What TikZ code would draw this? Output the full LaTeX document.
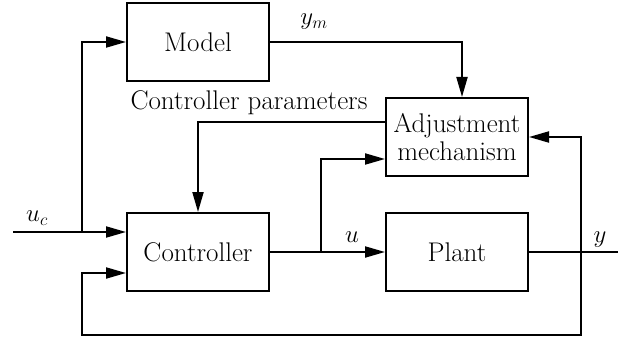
\documentclass[tikz,border=0pt]{standalone}
\usetikzlibrary{arrows.meta}
\begin{document}
\begin{tikzpicture}[x=1pt,y=-1pt,
  every node/.style={font=\fontsize{27}{28.5}\selectfont},
  blk/.style={draw,line width=2pt,minimum width=142pt,minimum height=78pt,inner sep=0pt,align=center},
  sig/.style={line width=2pt},
  arr/.style={sig,-{Triangle[length=20pt,width=11pt]}},
  lbl/.style={inner sep=0pt}]
\useasboundingbox (0,0) rectangle (631,339);
\node[blk] (model) at (198,42) {Model};
\node[blk] (adj) at (457,137) {Adjustment\\mechanism};
\node[blk] (ctrl) at (198,252) {Controller};
\node[blk] (plant) at (457,252) {Plant};
% labels
\node[lbl] (lym) at (314,22) {$y_m$};
\node[lbl] (luc) at (37,218) {$u_c$};
\node[lbl] (lu) at (352,237) {$u$};
\node[lbl] (ly) at (600,240) {$y$};
\node[lbl,anchor=base] (lcp) at (249,110) {Controller parameters};
% coordinates
\coordinate (uin) at (13,232);
\coordinate (j1) at (82,232);
\coordinate (ymc) at (462,42);
\coordinate (j2) at (321,252);
\coordinate (j3) at (581,252);
\coordinate (yout) at (618,252);
\coordinate (fbl) at (581,335);
\coordinate (fbr) at (82,335);
% connectors
\draw[arr] (model.east) -- (ymc) -- (ymc |- adj.north);
\draw[arr] (adj.west |- 0,122) -| (ctrl.north);
\draw[arr] (uin) -- (ctrl.west |- uin);
\draw[arr] (j1) |- (model.west);
\draw[arr] (ctrl.east) -- (plant.west);
\draw[arr] (j2) |- (adj.west |- 0,159);
\draw[sig] (plant.east) -- (yout);
\draw[arr] (j3) |- (adj.east);
\draw[arr] (j3) -- (fbl) -- (fbr) |- (ctrl.west |- 0,273);
\end{tikzpicture}
\end{document}
